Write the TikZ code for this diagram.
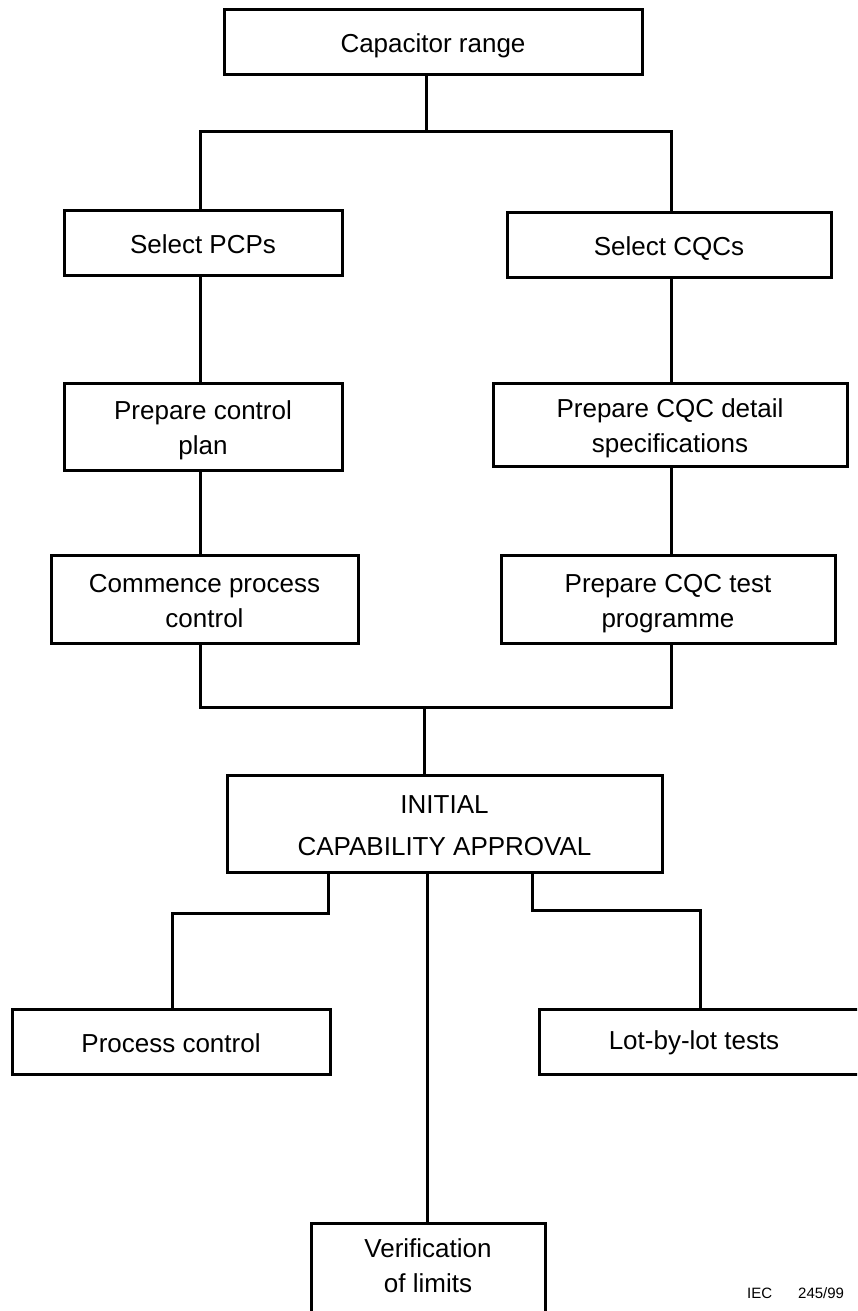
\documentclass[tikz,border=0pt]{standalone}
\usepackage{fontspec}
\setmainfont{Liberation Sans}
% struts that give every box text the same height and depth
\newcommand\tst{\rule{0pt}{28pt}}
\newcommand\bst{\rule[-7pt]{0pt}{7pt}}
\begin{document}
\begin{tikzpicture}[x=1pt,y=-1pt,
  wire/.style={line width=3pt,line cap=rect,line join=miter},
  box/.style={draw,line width=3pt,inner sep=0pt,align=center,
    font=\fontsize{26}{35}\selectfont},
  txt/.style={inner sep=0pt,align=center,font=\fontsize{26}{35}\selectfont},
  note/.style={inner sep=0pt,font=\fontsize{15}{18}\selectfont}]
\clip (0,0) rectangle (857,1311);
\fill[white] (0,0) rectangle (857,1311);

% boxes: centre and size in pixels
\node[box,minimum width=418pt,minimum height=65pt] (cap)  at (433,42.5)  {\tst Capacitor range\bst};
\node[box,minimum width=278pt,minimum height=65pt] (pcp)  at (203,242.5) {\tst Select PCPs\bst};
\node[box,minimum width=324pt,minimum height=65pt] (cqc)  at (669,244.5) {\tst Select CQCs\bst};
\node[box,minimum width=278pt,minimum height=87pt] (plan) at (203,426.5) {\tst Prepare control\\plan\bst};
\node[box,minimum width=354pt,minimum height=83pt] (spec) at (670,424.5) {\tst Prepare CQC detail\\specifications\bst};
\node[box,minimum width=307pt,minimum height=88pt] (proc) at (204.5,599) {\tst Commence process\\control\bst};
\node[box,minimum width=334pt,minimum height=88pt] (prog) at (668,599)   {\tst Prepare CQC test\\programme\bst};
\node[box,minimum width=435pt,minimum height=97pt] (ica)  at (444.5,823.5) {\tst INITIAL\\[7pt]CAPABILITY APPROVAL\bst};
\node[box,minimum width=318pt,minimum height=65pt] (pc)   at (171,1041.5) {\tst Process control\bst};
\node[box,minimum width=361pt,minimum height=65pt] (lot)  at (719.5,1041.5) {};
\node[txt] (lottxt) at (694,1043) {Lot-by-lot tests};
\node[box,minimum width=234pt,minimum height=177pt] (ver)  at (428,1311.5) {};
\node[txt] (vertxt) at (428,1266) {Verification\\of limits};
\node[note,anchor=west] (iec) at (747,1293) {IEC\hspace{26pt}245/99};

% junction points of the connector tree
\coordinate (top)  at (426,132);
\coordinate (tl)   at (200,132);
\coordinate (tr)   at (671,132);
\coordinate (bl)   at (200,707);
\coordinate (br)   at (671,707);
\coordinate (mid)  at (424,707);
\coordinate (lk1)  at (328,913);
\coordinate (lk2)  at (172,913);
\coordinate (rk1)  at (532,910);
\coordinate (rk2)  at (700,910);

% top split
\draw[wire] (cap.south -| top) -- (top);
\draw[wire] (tl) -- (tr);
\draw[wire] (tl) -- (pcp.north -| tl);
\draw[wire] (tr) -- (cqc.north -| tr);

% left column
\draw[wire] (pcp.south -| tl) -- (plan.north -| tl);
\draw[wire] (plan.south -| tl) -- (proc.north -| tl);
\draw[wire] (proc.south -| bl) -- (bl);

% right column
\draw[wire] (cqc.south -| tr) -- (spec.north -| tr);
\draw[wire] (spec.south -| tr) -- (prog.north -| tr);
\draw[wire] (prog.south -| br) -- (br);

% merge into approval
\draw[wire] (bl) -- (br);
\draw[wire] (mid) -- (ica.north -| mid);

% branches below approval
\draw[wire] (ica.south -| lk1) -- (lk1) -- (lk2) -- (pc.north -| lk2);
\draw[wire] (ica.south -| rk1) -- (rk1) -- (rk2) -- (lot.north -| rk2);
\draw[wire] (ica.south -| 427,0) -- (ver.north -| 427,0);
\end{tikzpicture}
\end{document}
